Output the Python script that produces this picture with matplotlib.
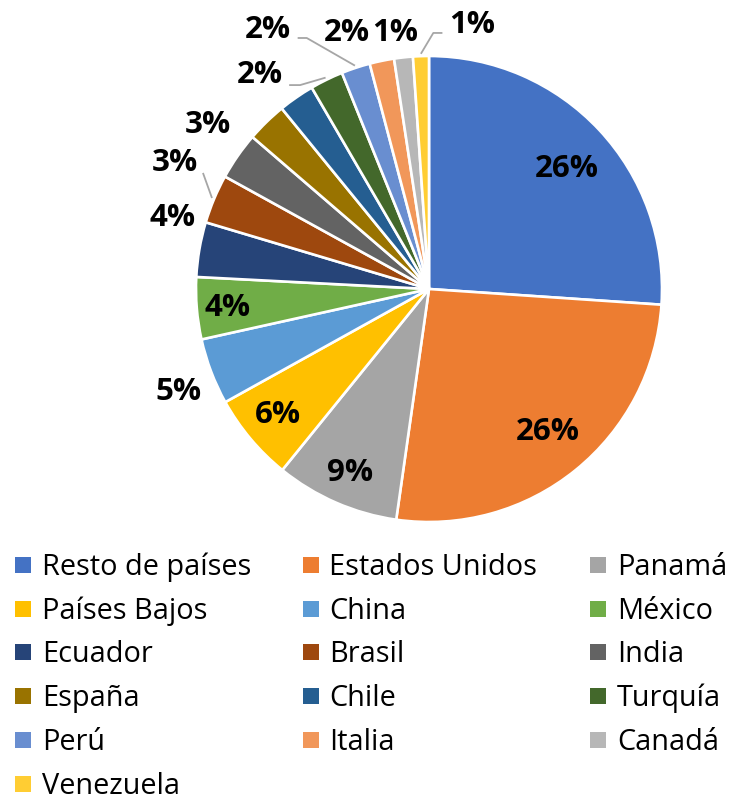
import matplotlib
matplotlib.use("Agg")
import matplotlib.pyplot as plt
from matplotlib.patches import Rectangle
import numpy as np

# ---------------- data ----------------
categories = ["Resto de países", "Estados Unidos", "Panamá", "Países Bajos", "China",
              "México", "Ecuador", "Brasil", "India", "España", "Chile", "Turquía",
              "Perú", "Italia", "Canadá", "Venezuela"]
shares = [26.1, 26.2, 8.6, 6.1, 4.6, 4.3, 3.8, 3.4, 3.3, 2.8, 2.5, 2.3, 2.0, 1.7, 1.3, 1.1]
show_label = [True, True, True, True, True, True, True, True, False, True, False, True,
              True, True, True, True]

# ---------------- style ----------------
colors = ["#4472C4", "#ED7D31", "#A5A5A5", "#FFC000", "#5B9BD5", "#70AD47", "#264478",
          "#9E480E", "#636363", "#997300", "#255E91", "#43682B", "#698ED0", "#F1975A",
          "#B7B7B7", "#FFCD33"]
# label placement (radius in pie units, angle clockwise from top in degrees)
label_pos = [(0.783, 49.0), (0.799, 140.2), (0.859, 203.2), (0.844, 230.2), (1.164, 247.7),
             (0.867, 264.6), (1.140, 285.5), (1.217, 296.4), None, (1.181, 306.6), None,
             (1.170, 321.7), (1.309, 328.1), (1.154, 342.2), (1.108, 352.4), (1.148, 9.3)]
# leader lines: index -> (end offset from label, elbow offset from label) in pie units
leaders = {7: ((0.12, -0.043), (0.12, -0.043)),
           11: ((0.125, -0.043), (0.172, -0.043)),
           12: ((0.128, -0.034), (0.167, -0.034)),
           15: ((-0.128, -0.034), (-0.167, -0.034))}

W, H = 729, 802
fig = plt.figure(figsize=(W / 100, H / 100), dpi=100)
cx, cy, R = 429, 289, 233
ax = fig.add_axes([(cx - R) / W, (H - cy - R) / H, 2 * R / W, 2 * R / H])

wedges, _ = ax.pie(shares, colors=colors, startangle=90, counterclock=False, radius=1,
                   wedgeprops=dict(edgecolor="white", linewidth=1.9))
ax.set_xlim(-1, 1)
ax.set_ylim(-1, 1)
ax.set_aspect("equal")
ax.axis("off")

total = sum(shares)
lab_font = dict(family=["Open Sans", "DejaVu Sans"], fontsize=22.5, fontweight="bold",
                color="black")

# slice mid angles (clockwise from top)
cum = np.cumsum([0] + shares[:-1])
mids = [(c + s / 2) / total * 360 for c, s in zip(cum, shares)]

for i, (s, show) in enumerate(zip(shares, show_label)):
    if not show:
        continue
    r, a = label_pos[i]
    x, y = r * np.sin(np.radians(a)), r * np.cos(np.radians(a))
    ax.text(x, y, f"{round(s / total * 100):d}%", ha="center", va="center",
            clip_on=False, **lab_font)
    if i in leaders:
        (ex, ey), (bx, by) = leaders[i]
        m = np.radians(mids[i])
        px, py = 1.01 * np.sin(m), 1.01 * np.cos(m)
        ax.plot([x + ex, x + bx, px], [y + ey, y + by, py], color="#A6A6A6",
                lw=1.3, clip_on=False, solid_capstyle="butt")

# ---------------- legend ----------------
col_sq = [15, 303, 590]
col_tx = [42, 329, 617]
row0, row_step = 575.0, 43.7
for i, (name, c) in enumerate(zip(categories, colors)):
    row, col = divmod(i, 3)
    base = row0 + row * row_step
    ymid = base - 10
    fig.patches.append(Rectangle((col_sq[col] / W, 1 - (ymid + 8) / H), 16 / W, 16 / H,
                                 transform=fig.transFigure, facecolor=c, edgecolor="none"))
    fig.text(col_tx[col] / W, 1 - base / H, name, ha="left", va="baseline",
             family=["Open Sans", "DejaVu Sans"], fontsize=20.8, color="black")

fig.savefig("out.png", dpi=100)
